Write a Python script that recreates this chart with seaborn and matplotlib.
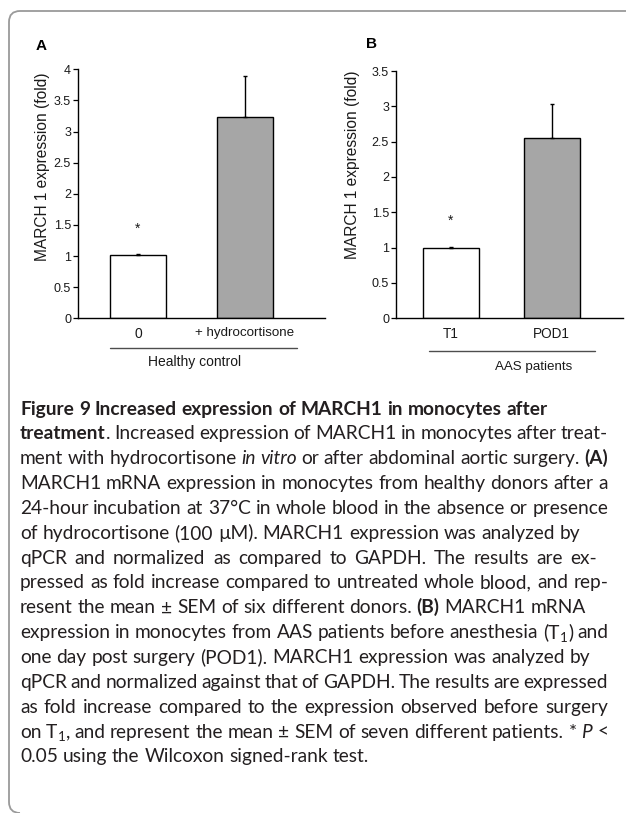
import numpy as np
import pandas as pd
import matplotlib
matplotlib.use("Agg")
import matplotlib.pyplot as plt
from matplotlib.path import Path
from matplotlib.patches import PathPatch
from matplotlib.lines import Line2D
import seaborn as sns

# ---- data -------------------------------------------------------------
conditions_a = ["0", "+ hydrocortisone"]
fold_a = [1.01, 3.23]
sem_a = [0.02, 0.67]
group_a = "Healthy control"
yticks_a = [0, 0.5, 1, 1.5, 2, 2.5, 3, 3.5, 4]

conditions_b = ["T1", "POD1"]
fold_b = [1.00, 2.55]
sem_b = [0.01, 0.48]
group_b = "AAS patients"
yticks_b = [0, 0.5, 1, 1.5, 2, 2.5, 3, 3.5]

significant_a = ["0"]
significant_b = ["T1"]

bar_colors = ["#ffffff", "#a6a6a6"]
ylabel = "MARCH 1 expression (fold)"

caption_runs = [
    [("Figure 9 Increased expression of MARCH1 in monocytes after", "b")],
    [("treatment", "b"), (". Increased expression of MARCH1 in monocytes after treat-", "r")],
    [("ment with hydrocortisone ", "r"), ("in vitro", "i"),
     (" or after abdominal aortic surgery. ", "r"), ("(A)", "b")],
    [("MARCH1 mRNA expression in monocytes from healthy donors after a", "r")],
    [("24-hour incubation at 37°C in whole blood in the absence or presence", "r")],
    [("of hydrocortisone (100 µM). MARCH1 expression was analyzed by", "r")],
    [("qPCR and normalized as compared to GAPDH. The results are ex-", "r")],
    [("pressed as fold increase compared to untreated whole blood, and rep-", "r")],
    [("resent the mean ± SEM of six different donors. ", "r"), ("(B)", "b"), (" MARCH1 mRNA", "r")],
    [("expression in monocytes from AAS patients before anesthesia (T", "r"), ("1", "s"), (") and", "r")],
    [("one day post surgery (POD1). MARCH1 expression was analyzed by", "r")],
    [("qPCR and normalized against that of GAPDH. The results are expressed", "r")],
    [("as fold increase compared to the expression observed before surgery", "r")],
    [("on T", "r"), ("1", "s"), (", and represent the mean ± SEM of seven different patients. * ", "r"),
     ("P", "i"), (" <", "r")],
    [("0.05 using the Wilcoxon signed-rank test.", "r")],
]
# right edge (px) each caption line is spread to; None keeps natural spacing
caption_right = [None, 608, 608, 608, 608, None, 597, 608, None, 608, None, 608, 608, 608, None]

# ---- figure ------------------------------------------------------------
sns.set_style("ticks")
plt.rcParams["font.family"] = ["Liberation Sans", "DejaVu Sans"]

W, H = 626, 813
fig = plt.figure(figsize=(W / 100, H / 100), dpi=100)
fig.patch.set_facecolor("white")


def fx(px):
    return px / W


def fy(py):
    return 1 - py / H


ink = "#1a1a1a"


def draw_panel(ax, cats, vals, errs, yticks, width, xlim, starred, tick_sizes):
    df = pd.DataFrame({"condition": cats, "fold": vals})
    sns.barplot(data=df, x="condition", y="fold", hue="condition", order=cats,
                hue_order=cats, palette=bar_colors, saturation=1, width=width,
                edgecolor="black", linewidth=1.0, errorbar=None, legend=False,
                ax=ax, zorder=2)
    xs = np.arange(len(cats))
    ax.errorbar(xs, vals, yerr=[np.zeros(len(vals)), errs], fmt="none",
                ecolor="black", elinewidth=1.0, capsize=1.2, capthick=1.0, zorder=3)
    for i, c in enumerate(cats):
        if c in starred:
            ax.annotate("*", xy=(i, vals[i]), xytext=(0, 16.5), textcoords="offset points",
                        ha="center", va="baseline", fontsize=10, color=ink)
    ax.set_xlim(*xlim)
    ax.set_ylim(yticks[0], yticks[-1])
    ax.set_yticks(yticks)
    ax.set_yticklabels([f"{t:g}" for t in yticks])
    ax.set_xlabel("")
    ax.set_ylabel(ylabel, fontsize=11.2, color=ink)
    for side in ("top", "right"):
        ax.spines[side].set_visible(False)
    for side in ("left", "bottom"):
        ax.spines[side].set_linewidth(1.0)
        ax.spines[side].set_color("black")
    ax.tick_params(axis="y", length=3.5, width=0.9, pad=1.5, labelsize=9,
                   colors="black", labelcolor=ink, direction="out")
    ax.tick_params(axis="x", length=0, pad=6, colors=ink)
    for lab, size in zip(ax.get_xticklabels(), tick_sizes):
        lab.set_fontsize(size)
    ax.set_facecolor("white")
    ax.grid(False)


# panel A
ax_a = fig.add_axes([fx(78), fy(318.3), (325 - 78) / W, (318.3 - 69.3) / H])
draw_panel(ax_a, conditions_a, fold_a, sem_a, yticks_a, 0.523, (-0.56, 1.748),
           significant_a, [10, 9.6])
ax_a.yaxis.set_label_coords(-0.113, 0.61)

# panel B
ax_b = fig.add_axes([fx(396), fy(318.3), (623 - 396) / W, (318.3 - 71) / H])
draw_panel(ax_b, conditions_b, fold_b, sem_b, yticks_b, 0.557, (-0.543, 1.705),
           significant_b, [9.8, 9.8])
ax_b.yaxis.set_label_coords(-0.16, 0.62)

# group brackets under the category labels
for (x0, x1, y) in [(110, 297, 348), (429, 595, 351)]:
    fig.add_artist(Line2D([fx(x0), fx(x1)], [fy(y), fy(y)], transform=fig.transFigure,
                          color="#4d4d4d", lw=1.0))
fig.text(fx(195), fy(362), group_a, ha="center", va="center", fontsize=10, color=ink)
fig.text(fx(534), fy(367), group_b, ha="center", va="center", fontsize=9.6, color=ink)

# panel letters
fig.text(fx(36), fy(46), "A", ha="left", va="center", fontsize=11, fontweight="bold", color="black")
fig.text(fx(366), fy(44), "B", ha="left", va="center", fontsize=11, fontweight="bold", color="black")

# rounded frame (open on the right and bottom)
r = 11
verts = [(626, 11), (9 + r, 11), (9, 11), (9, 11 + r), (9, 813 - r), (9, 813), (9 + r, 813)]
codes = [Path.MOVETO, Path.LINETO, Path.CURVE3, Path.CURVE3, Path.LINETO, Path.CURVE3, Path.CURVE3]
frame = Path([(fx(x), fy(y)) for x, y in verts], codes)
fig.add_artist(PathPatch(frame, transform=fig.transFigure, fill=False,
                         edgecolor="#9a9a9a", lw=1.3, capstyle="butt"))

# ---- caption -------------------------------------------------------------
cap_family = ["Lato", "Open Sans", "DejaVu Sans"]
styles = {
    "r": dict(fontweight="normal", fontstyle="normal"),
    "b": dict(fontweight="bold", fontstyle="normal"),
    "i": dict(fontweight="normal", fontstyle="italic"),
    "s": dict(fontweight="normal", fontstyle="normal"),
}
renderer = fig.canvas.get_renderer()


def words_of(runs):
    words = [[]]
    for text, st in runs:
        parts = text.split(" ")
        for k, part in enumerate(parts):
            if k > 0:
                words.append([])
            if part:
                words[-1].append((part, st))
    return [w for w in words if w]


def measure(text, size, st):
    t = fig.text(0, 0, text, fontsize=size * (0.7 if st == "s" else 1.0),
                 family=cap_family, **styles[st])
    w = t.get_window_extent(renderer).width
    t.remove()
    return w


def natural_width(runs, size):
    ws = words_of(runs)
    sp = measure("n n", size, "r") - measure("nn", size, "r")
    return sum(measure(p, size, s) for w in ws for p, s in w) + sp * (len(ws) - 1)


# pick the caption size so the densest line just fills the column
base = 12.0
size = base * 600.0 / natural_width(caption_runs[11], base)

x_left, y_first, leading = 20, 409, 24.85
space = measure("n n", size, "r") - measure("nn", size, "r")
for li, runs in enumerate(caption_runs):
    ws = words_of(runs)
    widths = [[measure(p, size, s) for p, s in w] for w in ws]
    totals = [sum(w) for w in widths]
    gap = space
    if caption_right[li] is not None and len(ws) > 1:
        gap = (caption_right[li] - x_left - sum(totals)) / (len(ws) - 1)
    y = y_first + li * leading + 5.5
    x = x_left
    for w, wl in zip(ws, widths):
        xx = x
        for (p, s), pw in zip(w, wl):
            yy = y + (3.5 if s == "s" else 0)
            fig.text(fx(xx), fy(yy), p, fontsize=size * (0.7 if s == "s" else 1.0),
                     family=cap_family, color="#231f20", ha="left", va="baseline", **styles[s])
            xx += pw + (0.6 if s == "s" else 0.4)
        x += sum(wl) + gap

fig.savefig("out.png", dpi=100, facecolor="white")
